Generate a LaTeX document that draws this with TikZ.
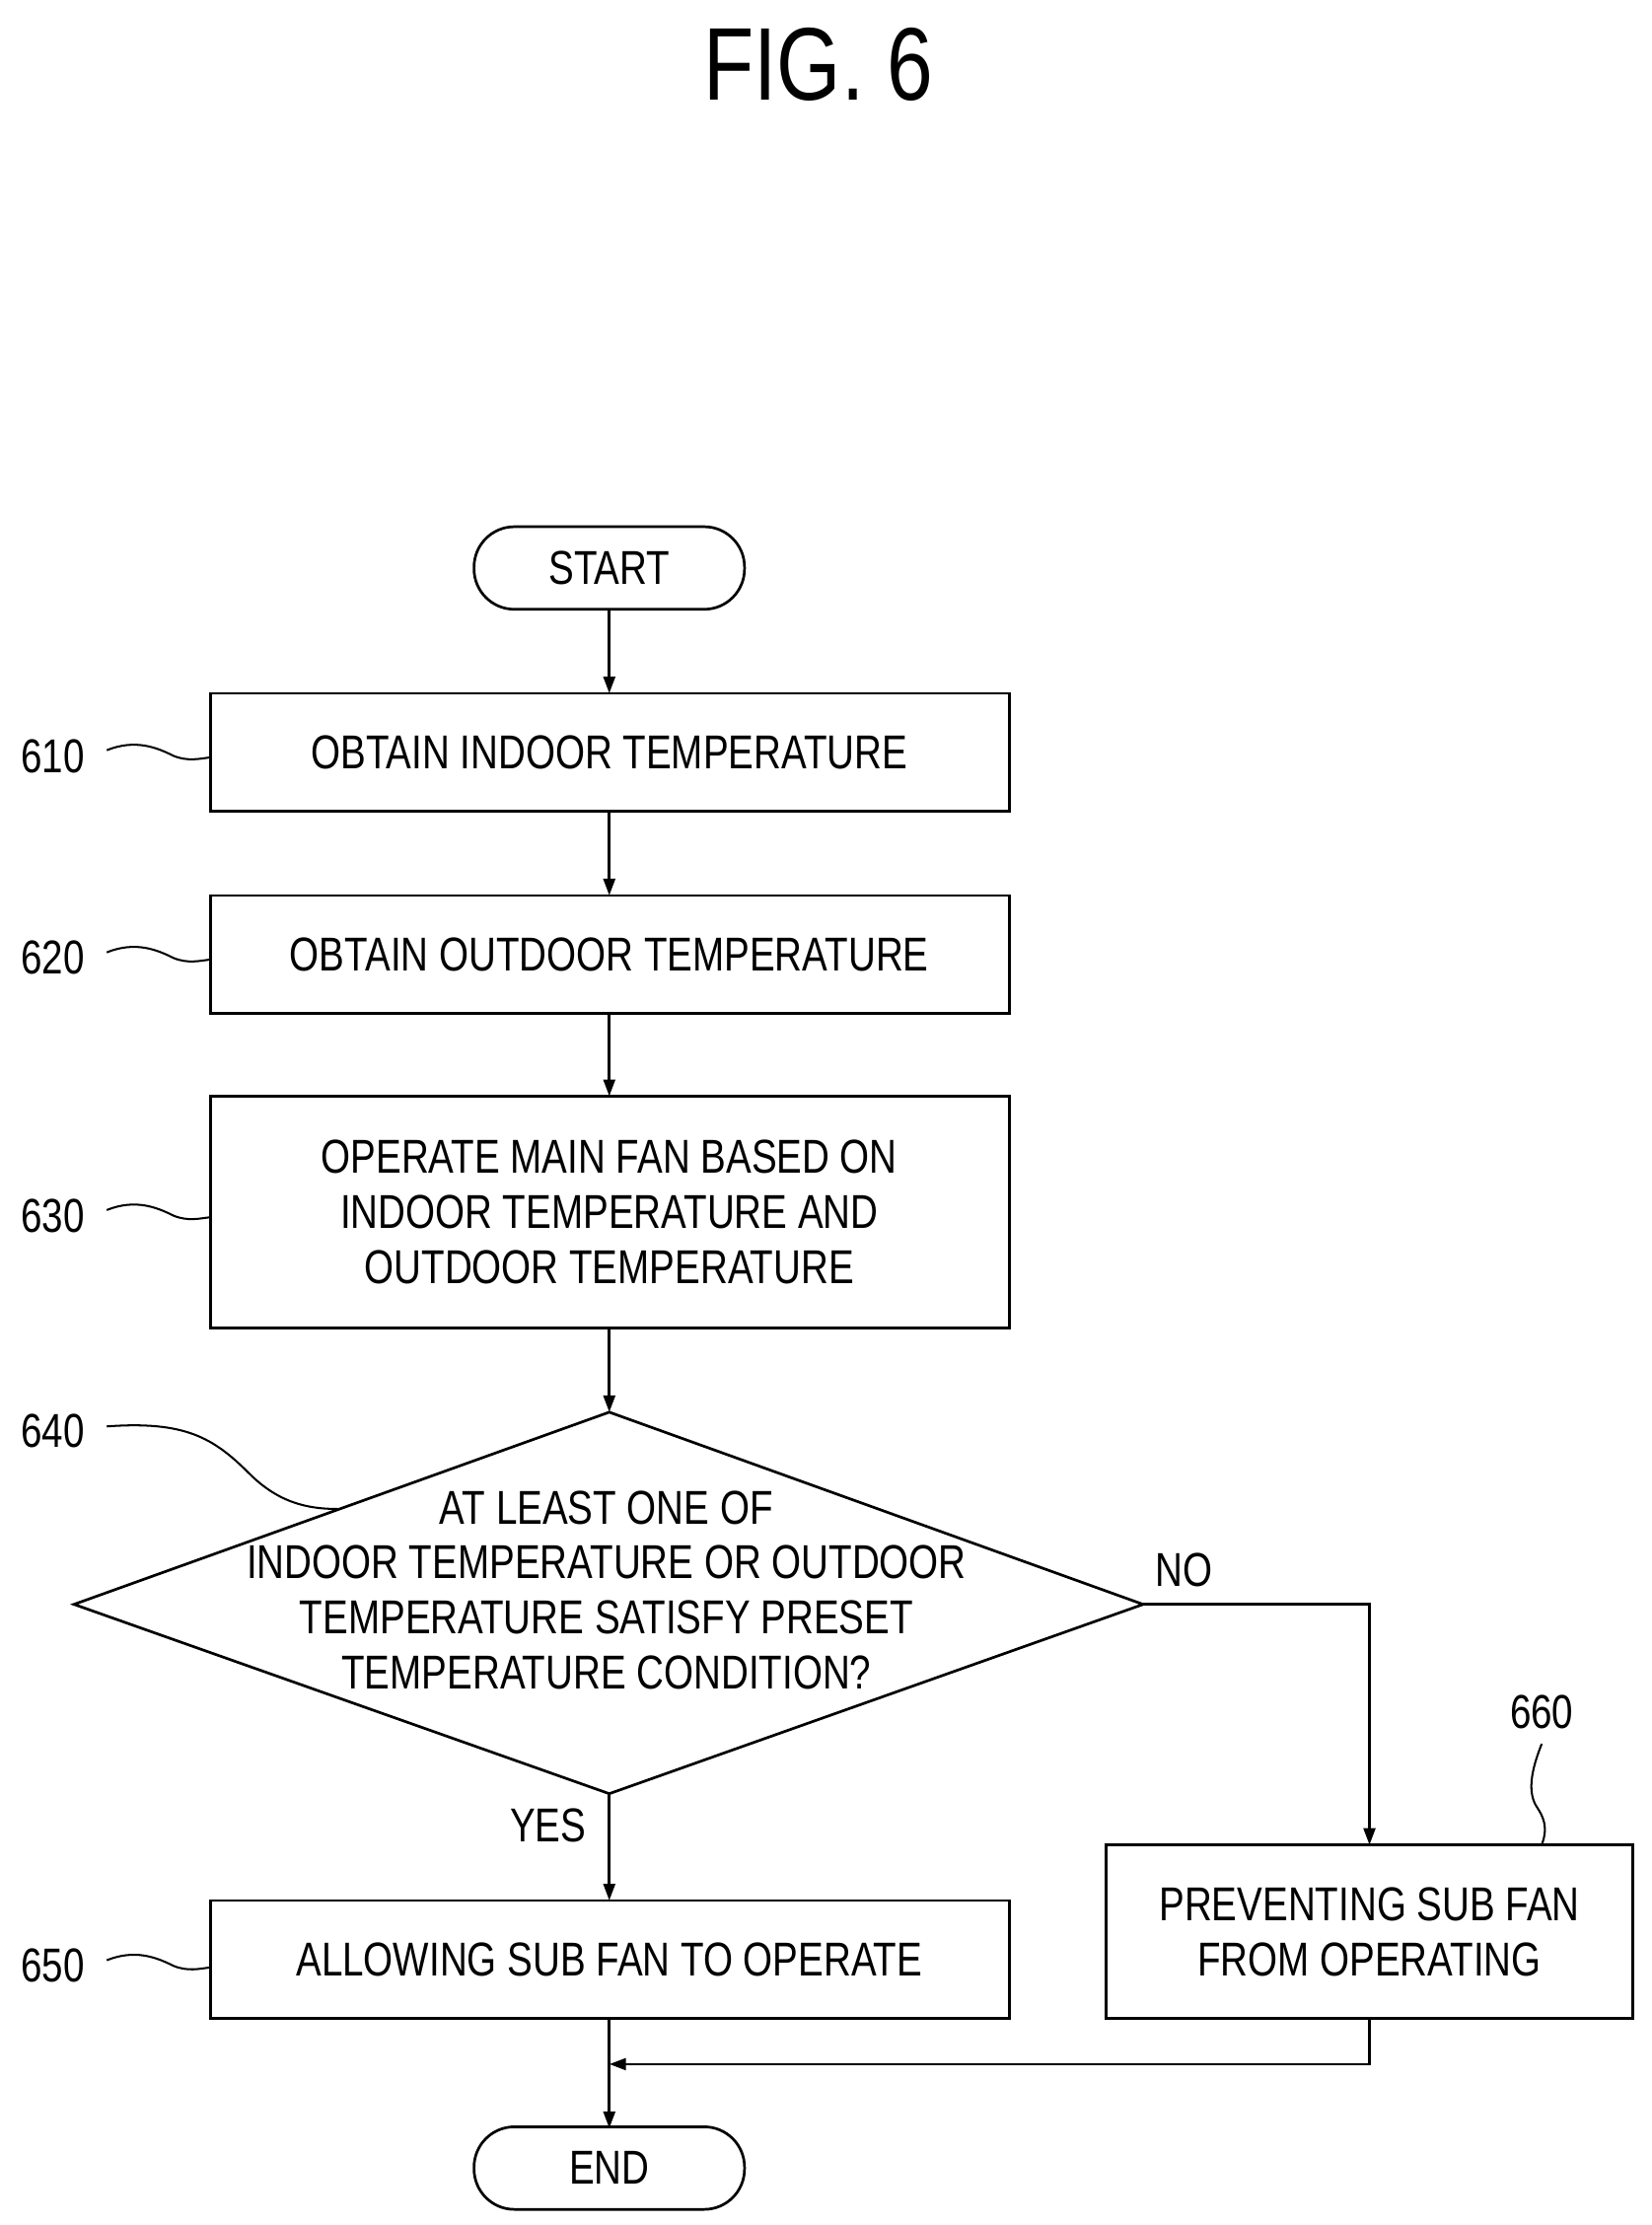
\documentclass[tikz,border=0pt]{standalone}
\usepackage{fontspec}
\setmainfont{Liberation Sans}[FakeStretch=0.8]
\usetikzlibrary{shapes.geometric,arrows.meta}
\begin{document}
\begin{tikzpicture}[x=0.03cm,y=-0.03cm,
  every node/.style={font=\fontsize{28.5}{33}\selectfont},
  arr/.style={line width=1.6pt,-{Triangle[length=10pt,width=7pt]}},
  ln/.style={line width=1.2pt}]
\useasboundingbox (0,0) rectangle (1160,1563);
\node[font=\fontsize{62}{70}\selectfont] (title) at (575,45) {FIG. 6};
\node[draw,line width=1.6pt,rounded corners=0.85cm,minimum width=5.7cm,minimum height=1.74cm] (start) at (428,399) {START};
\draw[line width=1.6pt] (148,487) rectangle (709,570); \node (b610) at (428,528.5) {OBTAIN INDOOR TEMPERATURE};
\draw[line width=1.6pt] (148,629) rectangle (709,712); \node (b620) at (428,670.5) {OBTAIN OUTDOOR TEMPERATURE};
\draw[line width=1.6pt] (148,770) rectangle (709,933); \node[align=center] (b630) at (428,851.5) {OPERATE MAIN FAN BASED ON\\INDOOR TEMPERATURE AND\\OUTDOOR TEMPERATURE};
\draw[line width=1.6pt] (428,992) -- (803,1127) -- (428,1260) -- (52,1127) -- cycle;
\node[align=center] (d640) at (426,1117) {AT LEAST ONE OF\\INDOOR TEMPERATURE OR OUTDOOR\\TEMPERATURE SATISFY PRESET\\TEMPERATURE CONDITION?};
\draw[line width=1.6pt] (148,1335) rectangle (709,1418); \node (b650) at (428,1376.5) {ALLOWING SUB FAN TO OPERATE};
\draw[line width=1.6pt] (777,1296) rectangle (1147,1418); \node[align=center] (b660) at (962,1357) {PREVENTING SUB FAN\\FROM OPERATING};
\node[draw,line width=1.6pt,rounded corners=0.85cm,minimum width=5.7cm,minimum height=1.74cm] (end) at (428,1523) {END};
\coordinate (s1) at (428,428); \coordinate (t1) at (428,487);
\coordinate (s2) at (428,570); \coordinate (t2) at (428,629);
\coordinate (s3) at (428,712); \coordinate (t3) at (428,770);
\coordinate (s4) at (428,933); \coordinate (t4) at (428,992);
\coordinate (s5) at (428,1260); \coordinate (t5) at (428,1335);
\coordinate (dr) at (803,1127); \coordinate (t6) at (962,1296);
\coordinate (s7) at (428,1418); \coordinate (t7) at (428,1495);
\coordinate (s8) at (962,1418); \coordinate (m8) at (428,1450);
\draw[arr] (s1)--(t1); \draw[arr] (s2)--(t2); \draw[arr] (s3)--(t3); \draw[arr] (s4)--(t4);
\draw[arr] (s5)--(t5); \draw[arr] (dr)-|(t6);
\draw[arr] (s7)--(t7);
\draw[arr] (s8)|-(m8);
\node (no) at (832,1103) {NO}; \node (yes) at (385,1282) {YES};
\foreach \n/\y in {610/531,620/673,630/854,650/1381}{
  \node (l\n) at (37,\y) {\n};
  \coordinate (a\n) at (75,\y-4); \coordinate (e\n) at (148,\y+1);
  \draw[ln] (a\n) .. controls (95,\y-12) and (110,\y-6) .. (122,\y) .. controls (132,\y+4) and (140,\y+2) .. (e\n);
}
\node (l640) at (37,1005) {640};
\coordinate (a640) at (75,1002); \coordinate (e640) at (237,1060);
\draw[ln] (a640) .. controls (130,998) and (150,1010) .. (175,1035) .. controls (195,1055) and (215,1060) .. (e640);
\node (l660) at (1083,1203) {660};
\coordinate (a660) at (1083,1225); \coordinate (e660) at (1083,1296);
\draw[ln] (a660) .. controls (1075,1245) and (1073,1260) .. (1080,1270) .. controls (1088,1282) and (1085,1290) .. (e660);
\end{tikzpicture}
\end{document}
